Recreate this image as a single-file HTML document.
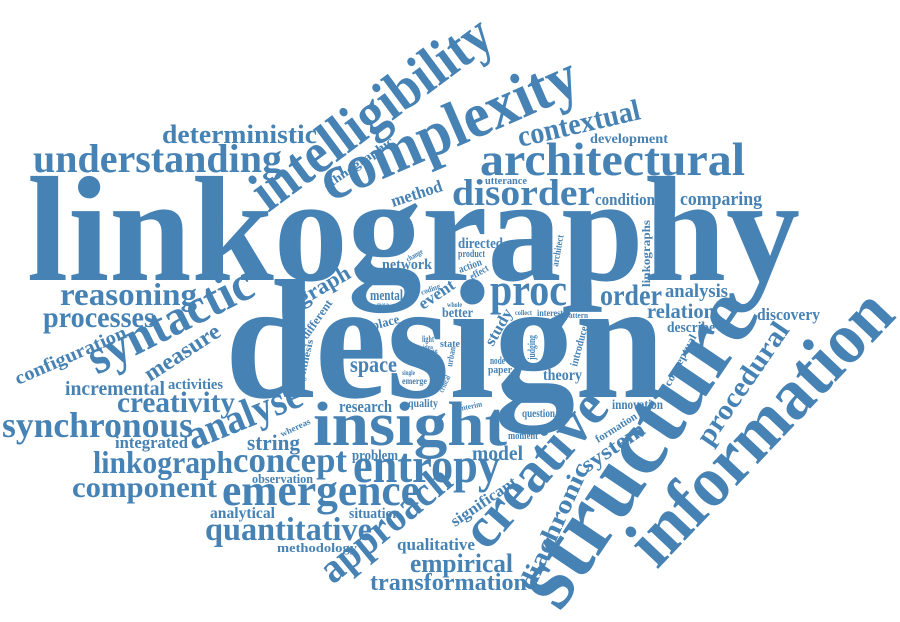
<!DOCTYPE html>
<html>
<head>
<meta charset="utf-8">
<style>
  html,body{margin:0;padding:0;background:#ffffff;}
  #cloud{display:block;width:900px;height:622px;}
  #cloud text{font-family:"Liberation Serif","DejaVu Serif",serif;font-weight:bold;fill:#4682b4;}
</style>
</head>
<body>
<svg id="cloud" xmlns="http://www.w3.org/2000/svg" width="900" height="622" viewBox="0 0 900 622">
  <rect x="0" y="0" width="900" height="622" fill="#ffffff"></rect>
  <g id="words"></g>
</svg>
<script>
// Word cloud data: words and their weights (font size)
const words = ["linkography","design","structure","information","intelligibility","complexity","architectural","understanding","insight","creative","entropy","emergence","syntactic","disorder","proc","approach","analyse","synchronous","concept","quantitative","linkograph","reasoning","processes","component","creativity","order","contextual","procedural","deterministic","empirical","diachronic","transformation","measure","graph","system","string","space","relation","model","incremental","comparing","analysis","configuration","condition","integrated","method","qualitative","research","discovery","event","activities","significant","analytical","situation","development","describe","directed","network","theory","study","mental","problem","innovation","better","question","observation","methodology","ethnographic","different","place","quality","moment","utterance","paper","node","linkographs","introduce","conceptual","formation","synthesis","judging","architect","product","action","effect","whereas","interest","pattern","collect","state","emerge","single","light","coding","change","interim","urban","critical","whole","move","idea","style"];
const weights = [150,170,94,73,58,64,47,40,62,58,50,44,50,37,46,42,41,36,36,33,32,32,30,30,30,30,30,28,26,26,25,24,23,22,22,22,23,21,21,20,19,19,19,17,17,17,17,17,17,17,15,16,16,15,14,15,15,15,16,16,15,15,14,14,12,13,13,12,12,13,12,10,10,11,10,12,11,11,11,10,10,10,10,11,10,9,9,8,7,11,9,7,9,8,8,8,9,8,7,7,6,7];
// Layout (placement of each word): [x, baseline y, rendered length, angle]
const layout = [
[27,280,773,0],[225,397,440,0],[560,613,360,-56],[657,570,349,-46.5],[268,213,285,-36.6],[330,202,276,-23.5],[480,175,265,0],[33,172,249,0],[313,445,194,0],[487,552,189,-49],
[353,482,147,0],[222,505,198,0],[97,375,179,-26.6],[452,205,143,0],[490,305,77,0],[333,585,158,-39.6],[193,450,121,-22],[2,437,191,0],[233,472,114,0],[205,540,167,0],
[93,473,140,0],[60,305,137,0],[43,327,112,0],[72,497,145,0],[117,412,118,0],[600,305,62,0],[520,147,125,-13],[710,447,142,-55.6],[162,143,155,0],[410,572,103,0],
[533,592,137,-65.5],[370,590,157,0],[150,382,86,-33],[302,306,58,-30],[587,473,72,-34],[247,450,53,0],[350,372,47,0],[647,318,68,0],[472,460,51,0],[65,395,100,0],
[680,205,82,0],[665,297,63,0],[18,385,120,-23.6],[595,205,60,0],[115,448,73,0],[393,207,53,-18],[397,550,78,0],[339,412,53,0],[757,320,63,0],[423,310,40,-34],
[168,389,55,0],[455,527,76,-34],[210,518,65,0],[349,518,51,0],[590,143,78,0],[667,332,48,0],[458,248,45,0],[382,269,50,0],[543,380,39,0],[493,347,40,-60],
[370,300,33,0],[352,460,46,0],[612,409,51,0],[442,317,31,0],[522,417,33,0],[252,483,61,0],[277,552,80,0],[327,190,82,-35],[307,340,45,-55],[373,330,28,-15],
[408,407,30,0],[508,439,30,0],[485,184,42,0],[488,373,24,0],[490,364,15,0],[650,287,67,-90],[577,367,41,-75],[670,387,57,-62],[598,443,47,-32],[303,385,46,-77],
[535,360,25,-90],[558,267,32,-80],[458,257,27,0],[460,273,24,-20],[472,280,20,-30],[282,437,32,-25],[537,316,26,0],[565,318,23,0],[515,315,17,0],[440,347,20,0],
[402,384,25,0],[402,375,13,0],[422,342,12,0],[422,295,20,-20],[408,262,18,-30],[460,411,23,-12],[452,367,20,-80],[443,393,18,-65],[447,307,15,0],[377,307,12,0],
[423,349,10,0],[428,358,12,-30]
];
const NS = "http://www.w3.org/2000/svg";
const group = document.getElementById("words");
for (let i = 0; i < words.length; i++) {
  const p = layout[i];
  const t = document.createElementNS(NS, "text");
  
  
  t.setAttribute("x", p[0]);
  t.setAttribute("y", p[1]);
  t.setAttribute("font-size", weights[i]);
  t.setAttribute("textLength", p[2]);
  t.setAttribute("lengthAdjust", "spacingAndGlyphs");
  if (p[3] !== 0) t.setAttribute("transform", "rotate(" + p[3] + " " + p[0] + " " + p[1] + ")");
  t.textContent = words[i];
  group.appendChild(t);
}
</script>
</body>
</html>
